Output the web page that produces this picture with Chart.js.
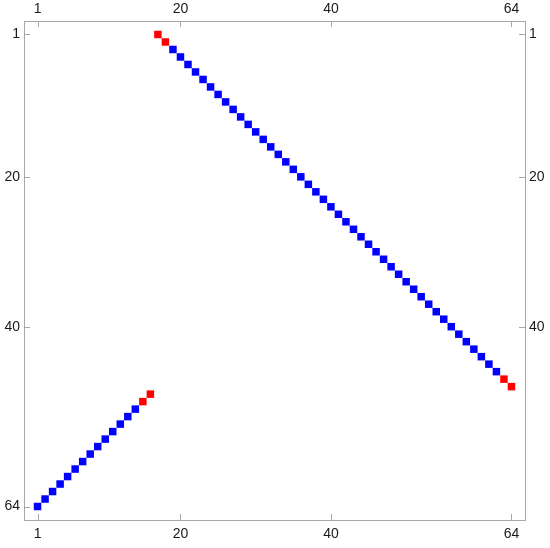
<!DOCTYPE html>
<html>
<head>
<meta charset="utf-8">
<script src="https://cdn.jsdelivr.net/npm/chart.js@4/dist/chart.umd.min.js"></script>
<style>
  html, body { margin: 0; padding: 0; background: #fff; }
  #wrap { width: 550px; height: 548px; }
</style>
</head>
<body>
<div id="wrap"><canvas id="matrixPlot"></canvas></div>
<script>
// nonzero entries of the 64x64 matrix: row i has its entry in column cols[i]
var rows = [1,2,3,4,5,6,7,8,9,10,11,12,13,14,15,16,17,18,19,20,21,22,23,24,25,26,27,28,29,30,31,32,
            33,34,35,36,37,38,39,40,41,42,43,44,45,46,47,48,49,50,51,52,53,54,55,56,57,58,59,60,61,62,63,64];
var cols = [17,18,19,20,21,22,23,24,25,26,27,28,29,30,31,32,33,34,35,36,37,38,39,40,41,42,43,44,45,46,47,48,
            49,50,51,52,53,54,55,56,57,58,59,60,61,62,63,64,16,15,14,13,12,11,10,9,8,7,6,5,4,3,2,1];
var redRows = [1,2,47,48,49,50];

var xTicks = [1,20,40,64];
var yTicksLeft = [1,20,40,64];
var yTicksRight = [1,20,40];

var redPts = [], bluePts = [];
for (var i = 0; i < rows.length; i++) {
    var p = {x: cols[i], y: rows[i]};
    if (redRows.indexOf(rows[i]) >= 0) redPts.push(p); else bluePts.push(p);
}

var frameColor = '#a8a8a8';
var lo = -0.8, hi = 65.8;

function fixTicks(list) {
    return function(scale) { scale.ticks = list.map(function(v){ return {value: v}; }); };
}
function fixSize(prop, size) {
    return function(scale) { scale[prop] = size; };
}

// frame and the short inward tick marks
var framePlugin = {
    id: 'frame',
    afterDraw: function(chart) {
        var ctx = chart.ctx, a = chart.chartArea, s = chart.scales, len = 6;
        ctx.save();
        ctx.strokeStyle = frameColor;
        ctx.lineWidth = 1;
        ctx.strokeRect(Math.round(a.left) + 0.5, Math.round(a.top) + 0.5,
                       Math.round(a.right - a.left), Math.round(a.bottom - a.top));
        ctx.beginPath();
        xTicks.forEach(function(v) {
            var px = Math.round(s.x.getPixelForValue(v)) + 0.5;
            ctx.moveTo(px, a.top); ctx.lineTo(px, a.top + len);
            ctx.moveTo(px, a.bottom); ctx.lineTo(px, a.bottom - len);
        });
        yTicksLeft.forEach(function(v) {
            var py = Math.round(s.y.getPixelForValue(v)) + 0.5;
            ctx.moveTo(a.left, py); ctx.lineTo(a.left + len, py);
        });
        yTicksRight.forEach(function(v) {
            var py = Math.round(s.y2.getPixelForValue(v)) + 0.5;
            ctx.moveTo(a.right, py); ctx.lineTo(a.right - len, py);
        });
        ctx.stroke();
        ctx.restore();
    }
};

var tickFont = {family: '"Liberation Sans", Arial, sans-serif', size: 14};
var tickColor = '#1a1a1a';

var config = {
    type: 'scatter',
    data: {
        datasets: [
            {data: redPts, backgroundColor: '#ff0000'},
            {data: bluePts, backgroundColor: '#0000ff'}
        ]
    },
    options: {
        responsive: true,
        maintainAspectRatio: false,
        animation: false,
        events: [],
        layout: {padding: 0},
        elements: {
            point: {pointStyle: 'rect', radius: 5.3, borderWidth: 0, hoverRadius: 5.3}
        },
        plugins: {legend: {display: false}, tooltip: {enabled: false}},
        scales: {
            x: {
                type: 'linear', position: 'bottom', min: lo, max: hi,
                afterBuildTicks: fixTicks(xTicks), afterFit: fixSize('height', 28),
                grid: {display: false, drawTicks: false}, border: {display: false},
                ticks: {font: tickFont, color: tickColor, padding: 6, maxRotation: 0}
            },
            x2: {
                type: 'linear', position: 'top', min: lo, max: hi,
                afterBuildTicks: fixTicks(xTicks), afterFit: fixSize('height', 21),
                grid: {display: false, drawTicks: false}, border: {display: false},
                ticks: {font: tickFont, color: tickColor, padding: 3, maxRotation: 0}
            },
            y: {
                type: 'linear', position: 'left', reverse: true, min: lo, max: hi,
                afterBuildTicks: fixTicks(yTicksLeft), afterFit: fixSize('width', 24),
                grid: {display: false, drawTicks: false}, border: {display: false},
                ticks: {font: tickFont, color: tickColor, padding: 4}
            },
            y2: {
                type: 'linear', position: 'right', reverse: true, min: lo, max: hi,
                afterBuildTicks: fixTicks(yTicksRight), afterFit: fixSize('width', 25),
                grid: {display: false, drawTicks: false}, border: {display: false},
                ticks: {font: tickFont, color: tickColor, padding: 4}
            }
        }
    },
    plugins: [framePlugin]
};

var plotCtx = document.getElementById('matrixPlot');
var plotChart = new Chart(plotCtx, config);
</script>
</body>
</html>
